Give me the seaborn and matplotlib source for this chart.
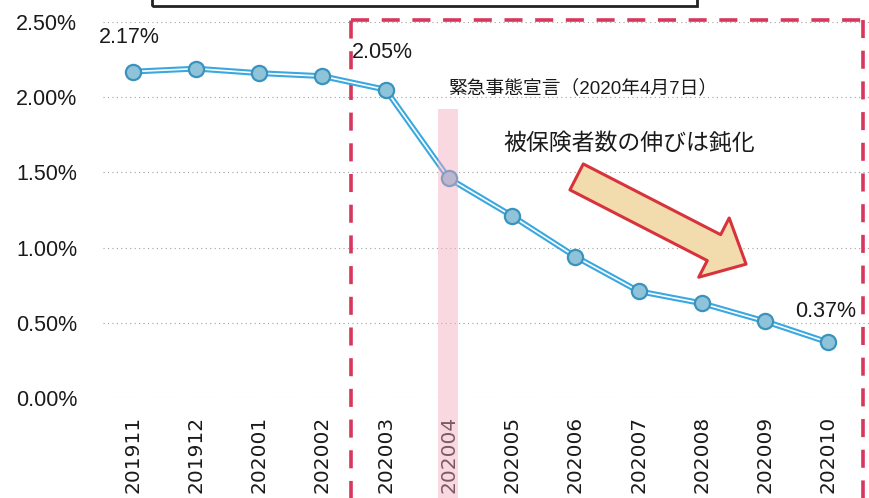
import matplotlib
matplotlib.use("Agg")
import matplotlib.pyplot as plt
from matplotlib.patches import Rectangle, FancyArrowPatch
from matplotlib.ticker import PercentFormatter
import seaborn as sns
import pandas as pd

# Monthly growth rate of insured persons (year-on-year, %)
months = ["201911", "201912", "202001", "202002", "202003", "202004",
          "202005", "202006", "202007", "202008", "202009", "202010"]
growth = [2.17, 2.19, 2.16, 2.14, 2.05, 1.46, 1.21, 0.94, 0.71, 0.63, 0.51, 0.37]
yticks = [0.0, 0.5, 1.0, 1.5, 2.0, 2.5]

sns.set_theme(style="white")
plt.rcParams["font.family"] = ["Liberation Sans", "Noto Sans CJK JP", "DejaVu Sans"]

df = pd.DataFrame({"month": months, "growth": growth})
df["pos"] = range(len(df))

fig = plt.figure(figsize=(8.7, 4.98), dpi=100)
ax = fig.add_axes([103 / 870, 1 - 398 / 498, (870 - 103) / 870, (398 - 22) / 498])

# faint dotted gridlines
for v in yticks:
    ax.axhline(v, color="#a0a0a0", lw=0.8, ls=(0, (1, 3)), zorder=0)

# the line: blue outer stroke with a white core
sns.lineplot(data=df, x="pos", y="growth", ax=ax, color="#3aa8e0", lw=4.2,
             zorder=3, legend=False)
sns.lineplot(data=df, x="pos", y="growth", ax=ax, color="white", lw=1.2,
             zorder=4, legend=False)
sns.scatterplot(data=df, x="pos", y="growth", ax=ax, s=120, color="#8fc3da",
                edgecolor="#3a93bd", linewidth=1.6, zorder=5, legend=False)

ax.set_xlim(-0.47, 11.66)
ax.set_ylim(0, 2.5)
ax.set_xticks(df["pos"])
ax.set_xticklabels(months, rotation=90, fontsize=14.5, color="#1a1a1a",
                   family="DejaVu Sans")
ax.set_yticks(yticks)
ax.yaxis.set_major_formatter(PercentFormatter(decimals=2))
ax.tick_params(axis="y", labelsize=15.5, pad=18.5, colors="#1a1a1a", length=0)
ax.tick_params(axis="x", pad=13, length=0)
ax.set_xlabel("")
ax.set_ylabel("")
for sp in ax.spines.values():
    sp.set_visible(False)

# highlighted month of the emergency declaration
ax.add_patch(Rectangle((4.83, -0.68), 0.31, 1.92 + 0.68, facecolor="#f4a9c0",
                       alpha=0.45, edgecolor="none", zorder=6, clip_on=False))

# dashed frame around the post-outbreak period
dash_kw = dict(color="#d6375a", lw=2.6, ls=(0, (5, 3.5)), zorder=2, clip_on=False)
ax.plot([3.45, 3.45], [-0.7, 2.51], **dash_kw)
ax.plot([3.45, 11.55], [2.51, 2.51], **dash_kw)
ax.plot([11.55, 11.55], [2.51, -0.7], **dash_kw)

# value labels
ax.text(-0.53, 2.40, "2.17%", fontsize=15.5, ha="left", va="center", color="#1a1a1a")
ax.text(3.47, 2.30, "2.05%", fontsize=15.5, ha="left", va="center", color="#1a1a1a")
ax.text(10.47, 0.575, "0.37%", fontsize=15.5, ha="left", va="center", color="#1a1a1a")

# annotations
ax.text(4.98, 2.06, "緊急事態宣言（2020年4月7日）", fontsize=13.5, ha="left",
        va="center", color="#1a1a1a")
ax.text(5.87, 1.69, "被保険者数の伸びは鈍化", fontsize=16.5, ha="left",
        va="center", color="#1a1a1a")

arrow = FancyArrowPatch((7.02, 1.47), (9.7, 0.89),
                        arrowstyle="simple,head_length=1.3,head_width=2.4,tail_width=1.05",
                        mutation_scale=20, facecolor="#f2dcae", edgecolor="#d8333c",
                        lw=2.2, shrinkA=0, shrinkB=0, zorder=7)
ax.add_patch(arrow)

# framed heading box, cut at the top edge
fig.patches.append(Rectangle((152 / 870, 1 - 6 / 498), (697 - 152) / 870, 0.05,
                             transform=fig.transFigure, facecolor="none",
                             edgecolor="#222222", lw=2, figure=fig))

fig.savefig("out.png", dpi=100, facecolor="white")
